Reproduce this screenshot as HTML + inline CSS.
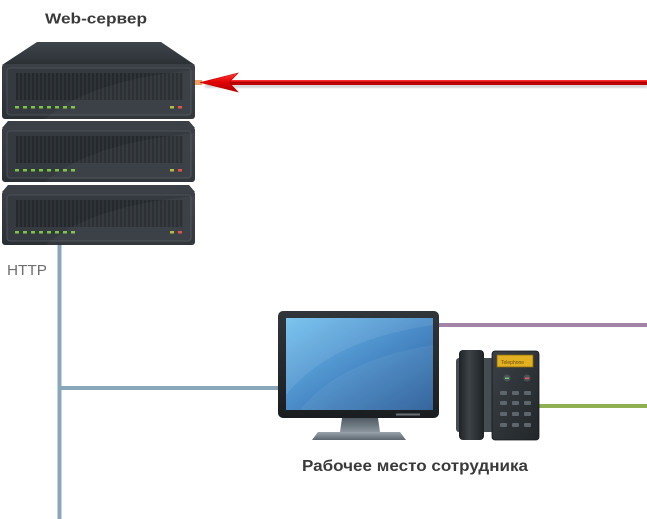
<!DOCTYPE html>
<html><head><meta charset="utf-8"><style>
html,body{margin:0;padding:0;background:#fff;}
svg{display:block;}
</style></head><body>
<svg width="647" height="519" viewBox="0 0 647 519" xmlns="http://www.w3.org/2000/svg">
<defs>
<linearGradient id="body" x1="0" y1="0" x2="0" y2="1">
<stop offset="0" stop-color="#3a4045"/><stop offset="1" stop-color="#2a2f33"/>
</linearGradient>
<linearGradient id="top" x1="0" y1="0" x2="0" y2="1">
<stop offset="0" stop-color="#3e454b"/><stop offset="1" stop-color="#2b3035"/>
</linearGradient>
<pattern id="vent" width="4" height="30" patternUnits="userSpaceOnUse">
<rect width="4" height="30" fill="#25292d"/><rect x="2.5" width="1" height="30" fill="#383e43"/>
</pattern>
<linearGradient id="screen" x1="0" y1="0" x2="1" y2="1">
<stop offset="0" stop-color="#72c0ee"/><stop offset="0.5" stop-color="#4a8cc8"/><stop offset="1" stop-color="#2a5c98"/>
</linearGradient>
<linearGradient id="frame" x1="0" y1="0" x2="0" y2="1">
<stop offset="0" stop-color="#30363a"/><stop offset="1" stop-color="#1a1e21"/>
</linearGradient>
<linearGradient id="neck" x1="0" y1="0" x2="0" y2="1">
<stop offset="0" stop-color="#4f5a62"/><stop offset="1" stop-color="#8a959e"/>
</linearGradient>
<linearGradient id="base" x1="0" y1="0" x2="0" y2="1">
<stop offset="0" stop-color="#9aa4ac"/><stop offset="1" stop-color="#5c666e"/>
</linearGradient>
<linearGradient id="hand" x1="0" y1="0" x2="1" y2="0">
<stop offset="0" stop-color="#1e2225"/><stop offset="0.4" stop-color="#3c4348"/><stop offset="1" stop-color="#1e2225"/>
</linearGradient>
<linearGradient id="pbody" x1="0" y1="0" x2="1" y2="1">
<stop offset="0" stop-color="#3a4046"/><stop offset="1" stop-color="#22272a"/>
</linearGradient>
<linearGradient id="arrow" x1="0" y1="0" x2="0" y2="1">
<stop offset="0" stop-color="#ff3a3a"/><stop offset="0.5" stop-color="#e00000"/><stop offset="1" stop-color="#b00000"/>
</linearGradient>
<filter id="blur"><feGaussianBlur stdDeviation="1.2"/></filter>
<g id="leds">
<rect x="15" y="0" width="4" height="2.5" fill="#7cc443"/>
<rect x="23" y="0" width="4" height="2.5" fill="#7cc443"/>
<rect x="31" y="0" width="4" height="2.5" fill="#7cc443"/>
<rect x="39" y="0" width="4" height="2.5" fill="#7cc443"/>
<rect x="47" y="0" width="4" height="2.5" fill="#7cc443"/>
<rect x="55" y="0" width="4" height="2.5" fill="#7cc443"/>
<rect x="63" y="0" width="4" height="2.5" fill="#7cc443"/>
<rect x="71" y="0" width="4" height="2.5" fill="#7cc443"/>
<rect x="170" y="0" width="4" height="2.5" fill="#b8b83a"/>
<rect x="178" y="0" width="4" height="2.5" fill="#e0503c"/>
</g>
</defs>

<!-- connectors -->
<rect x="57.5" y="244" width="4" height="275" fill="#88a7ba"/>
<rect x="59" y="386" width="222" height="4" fill="#88a7ba"/>
<rect x="438" y="323" width="209" height="4" fill="#a284a6"/>
<rect x="538" y="404" width="109" height="4" fill="#8eb052"/>

<!-- red arrow -->
<rect x="205" y="84" width="442" height="4" fill="#999" opacity="0.45" filter="url(#blur)"/>
<rect x="194" y="80" width="8" height="5" fill="#f0a060"/>
<rect x="228" y="80" width="419" height="5" fill="url(#arrow)"/>
<rect x="228" y="81.8" width="419" height="1.4" fill="#a80000"/>
<polygon points="200,82.5 238,73 229,82.5 238,92" fill="url(#arrow)" stroke="#c00000" stroke-width="0.6"/>

<!-- server -->
<polygon points="37,42 161,42 195,65 2,65" fill="url(#top)"/>
<polygon points="8,121 189,121 195,128 2,128" fill="#3a4045"/>
<polygon points="8,185 189,185 195,192 2,192" fill="#3a4045"/>

<g>
<rect x="2" y="64" width="193" height="55" rx="3" fill="url(#body)"/>
<rect x="7" y="68" width="184" height="47" rx="3" fill="#343a3f" stroke="#4a5157" stroke-width="1"/>
<rect x="16" y="73" width="167" height="27" fill="url(#vent)"/>
<g transform="translate(0,106)"><use href="#leds"/></g>
</g>
<g>
<rect x="2" y="127" width="193" height="55" rx="3" fill="url(#body)"/>
<rect x="7" y="131" width="184" height="47" rx="3" fill="#343a3f" stroke="#4a5157" stroke-width="1"/>
<rect x="16" y="136" width="167" height="27" fill="url(#vent)"/>
<g transform="translate(0,169)"><use href="#leds"/></g>
</g>
<g>
<rect x="2" y="191" width="193" height="54" rx="3" fill="url(#body)"/>
<rect x="7" y="195" width="184" height="46" rx="3" fill="#343a3f" stroke="#4a5157" stroke-width="1"/>
<rect x="16" y="200" width="167" height="27" fill="url(#vent)"/>
<g transform="translate(0,231)"><use href="#leds"/></g>
</g>
<!-- subtle highlight swoosh -->
<path d="M45,119 Q90,80 195,70 L195,119 Z" fill="#fff" opacity="0.04"/>
<path d="M45,182 Q90,143 195,133 L195,182 Z" fill="#fff" opacity="0.04"/>
<path d="M45,245 Q90,206 195,196 L195,245 Z" fill="#fff" opacity="0.04"/>

<!-- monitor -->
<rect x="278" y="311" width="161" height="107" rx="5" fill="url(#frame)"/>
<rect x="286" y="318" width="147" height="92" fill="url(#screen)"/>
<path d="M286,395 Q330,340 433,325 L433,318 L286,318 Z" fill="#fff" opacity="0.08"/>
<path d="M300,410 Q340,360 433,345 L433,410 Z" fill="#fff" opacity="0.06"/>
<rect x="396" y="413.5" width="24" height="2" fill="#6a7278"/>
<polygon points="342,418 378,418 380,432 340,432" fill="url(#neck)"/>
<polygon points="318,432 400,432 406,440 312,440" fill="url(#base)"/>

<!-- phone -->
<rect x="456" y="358" width="38" height="74" rx="3" fill="#454c52"/>
<rect x="459" y="350" width="25" height="90" rx="4" fill="url(#hand)"/>
<rect x="492" y="351" width="47" height="89" rx="3" fill="url(#pbody)" stroke="#15181a" stroke-width="0.8"/>
<rect x="497" y="355" width="36" height="12" fill="#e2b020" stroke="#8a6a10" stroke-width="0.8"/>
<text x="501" y="364" font-family="Liberation Sans, sans-serif" font-size="5" fill="#6a5010">Telephone</text>
<circle cx="507" cy="378" r="3.5" fill="#4a5258"/><rect x="505" y="377.5" width="4" height="1.5" fill="#6c6"/>
<circle cx="527" cy="378" r="3.5" fill="#4a5258"/><rect x="525" y="377.5" width="4" height="1.5" fill="#e55"/>
<g fill="#5d666d">
<rect x="500" y="391" width="7" height="4" rx="1"/><rect x="512" y="391" width="7" height="4" rx="1"/><rect x="524" y="391" width="7" height="4" rx="1"/>
<rect x="500" y="401" width="7" height="4" rx="1"/><rect x="512" y="401" width="7" height="4" rx="1"/><rect x="524" y="401" width="7" height="4" rx="1"/>
<rect x="500" y="412" width="7" height="4" rx="1"/><rect x="512" y="412" width="7" height="4" rx="1"/><rect x="524" y="412" width="7" height="4" rx="1"/>
<rect x="500" y="423" width="7" height="4" rx="1"/><rect x="512" y="423" width="7" height="4" rx="1"/><rect x="524" y="423" width="7" height="4" rx="1"/>
</g>

<!-- labels -->
<text x="45" y="23.5" font-family="Liberation Sans, sans-serif" font-weight="bold" font-size="15" fill="#3a3a3a" textLength="102" lengthAdjust="spacingAndGlyphs">Web-сервер</text>
<text x="7" y="275" font-family="Liberation Sans, sans-serif" font-size="15" fill="#6e6e6e" textLength="40" lengthAdjust="spacingAndGlyphs">HTTP</text>
<text x="302" y="471" font-family="Liberation Sans, sans-serif" font-weight="bold" font-size="16" fill="#3a3a3a" textLength="226" lengthAdjust="spacingAndGlyphs">Рабочее место сотрудника</text>
</svg>
</body></html>
